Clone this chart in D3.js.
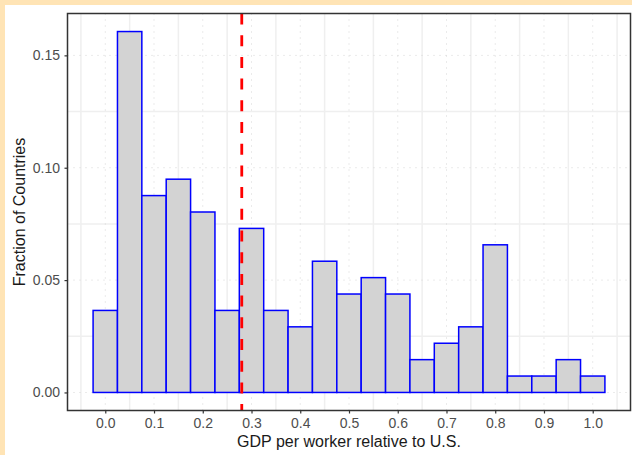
<!DOCTYPE html>
<html lang="en">
  <head>
    <meta charset="utf-8">
    <title>GDP per worker histogram</title>
    <script src="https://d3js.org/d3.v7.js"></script>
    <style>
      html, body { margin: 0; padding: 0; background: #ffffff; }
      * { font-family: "Liberation Sans", Arial, sans-serif; }
    </style>
  </head>
  <body>
    <script type="text/javascript">

      // bin centres (width 0.05) and fraction of countries in each bin
      const binCenters = [0.00, 0.05, 0.10, 0.15, 0.20, 0.25, 0.30, 0.35, 0.40, 0.45, 0.50,
                          0.55, 0.60, 0.65, 0.70, 0.75, 0.80, 0.85, 0.90, 0.95, 1.00];
      const fractions  = [0.0365, 0.1606, 0.0876, 0.0949, 0.0803, 0.0365, 0.0730, 0.0365, 0.0292, 0.0584, 0.0438,
                          0.0511, 0.0438, 0.0146, 0.0219, 0.0292, 0.0657, 0.0073, 0.0073, 0.0146, 0.0073];
      const binWidth = 0.05;
      const meanValue = 0.28;

      const xTicks = [0, 0.1, 0.2, 0.3, 0.4, 0.5, 0.6, 0.7, 0.8, 0.9, 1.0];
      const xMinor = [-0.05, 0.05, 0.15, 0.25, 0.35, 0.45, 0.55, 0.65, 0.75, 0.85, 0.95, 1.05];
      const yTicks = [0, 0.05, 0.10, 0.15];
      const yMinor = [0.025, 0.075, 0.125];

      const w = 632;
      const h = 455;
      const panel = {left: 67.5, right: 630.5, top: 13.5, bottom: 410.5};

      const bins = binCenters.map((c, i) => ({x0: c - binWidth / 2, x1: c + binWidth / 2, y: fractions[i]}));

      const xScale = d3.scaleLinear()
        .domain([-0.0775, 1.0775])
        .range([panel.left, panel.right]);

      const yMax = d3.max(fractions);
      const yScale = d3.scaleLinear()
        .domain([-0.05 * yMax, 1.05 * yMax])
        .range([panel.bottom, panel.top]);

      const svg = d3.select("body")
        .append("svg")
        .attr("width", w)
        .attr("height", h);

      // background with the orange strips at top and left
      svg.append("rect")
        .attr("width", w).attr("height", h)
        .attr("fill", "#FFE4B5");
      svg.append("rect")
        .attr("x", 5).attr("y", 5)
        .attr("width", w - 5).attr("height", h - 5)
        .attr("fill", "white");

      const grid = svg.append("g").attr("id", "grid");

      // minor grid: solid light lines
      grid.selectAll("line.xminor")
        .data(xMinor.filter(d => xScale(d) > panel.left && xScale(d) < panel.right))
        .join("line")
        .attr("x1", d => xScale(d)).attr("x2", d => xScale(d))
        .attr("y1", panel.top).attr("y2", panel.bottom)
        .attr("stroke", "#EFEFEF").attr("stroke-width", 1.5);
      grid.selectAll("line.yminor")
        .data(yMinor)
        .join("line")
        .attr("x1", panel.left).attr("x2", panel.right)
        .attr("y1", d => yScale(d)).attr("y2", d => yScale(d))
        .attr("stroke", "#EFEFEF").attr("stroke-width", 1.5);

      // major grid: dotted
      const major = svg.append("g").attr("id", "major");
      major.selectAll("line.xmajor")
        .data(xTicks)
        .join("line")
        .attr("x1", d => xScale(d)).attr("x2", d => xScale(d))
        .attr("y1", panel.top).attr("y2", panel.bottom)
        .attr("stroke", "#D6D6D6").attr("stroke-width", 1)
        .attr("stroke-dasharray", "1,5");
      major.selectAll("line.ymajor")
        .data(yTicks)
        .join("line")
        .attr("x1", panel.left).attr("x2", panel.right)
        .attr("y1", d => yScale(d)).attr("y2", d => yScale(d))
        .attr("stroke", "#D6D6D6").attr("stroke-width", 1)
        .attr("stroke-dasharray", "1,5");

      // bars
      svg.append("g")
        .attr("id", "bars")
        .selectAll("rect")
        .data(bins)
        .join("rect")
        .attr("x", d => xScale(d.x0))
        .attr("width", d => xScale(d.x1) - xScale(d.x0))
        .attr("y", d => yScale(d.y))
        .attr("height", d => yScale(0) - yScale(d.y))
        .attr("fill", "#D3D3D3")
        .attr("stroke", "#0000FF")
        .attr("stroke-width", 1.5);

      // mean line
      svg.append("line")
        .attr("x1", xScale(meanValue)).attr("x2", xScale(meanValue))
        .attr("y1", panel.top).attr("y2", panel.bottom)
        .attr("stroke", "#FF0000")
        .attr("stroke-width", 2.8)
        .attr("stroke-dasharray", "11,10.7");

      // panel border
      svg.append("rect")
        .attr("x", panel.left).attr("y", panel.top)
        .attr("width", panel.right - panel.left)
        .attr("height", panel.bottom - panel.top)
        .attr("fill", "none")
        .attr("stroke", "#333333")
        .attr("stroke-width", 1.5);

      // axes
      const xAxis = d3.axisBottom(xScale)
        .tickValues(xTicks)
        .tickFormat(d3.format(".1f"))
        .tickSize(3)
        .tickPadding(5);
      const yAxis = d3.axisLeft(yScale)
        .tickValues(yTicks)
        .tickFormat(d3.format(".2f"))
        .tickSize(3)
        .tickPadding(4.5);

      const gx = svg.append("g")
        .attr("transform", `translate(0, ${panel.bottom})`)
        .call(xAxis);
      const gy = svg.append("g")
        .attr("transform", `translate(${panel.left}, 0)`)
        .call(yAxis);

      [gx, gy].forEach(g => {
        g.select(".domain").remove();
        g.selectAll(".tick line").attr("stroke", "#333333").attr("stroke-width", 1.2);
        g.selectAll(".tick text")
          .attr("fill", "#4D4D4D")
          .style("font-size", "14px");
      });

      // axis titles
      svg.append("text")
        .attr("x", (panel.left + panel.right) / 2)
        .attr("y", 447)
        .attr("text-anchor", "middle")
        .attr("fill", "#1A1A1A")
        .style("font-size", "16px")
        .text("GDP per worker relative to U.S.");

      svg.append("text")
        .attr("transform", `translate(25, ${(panel.top + panel.bottom) / 2}) rotate(-90)`)
        .attr("text-anchor", "middle")
        .attr("fill", "#1A1A1A")
        .style("font-size", "16px")
        .text("Fraction of Countries");

    </script>
  </body>
</html>
